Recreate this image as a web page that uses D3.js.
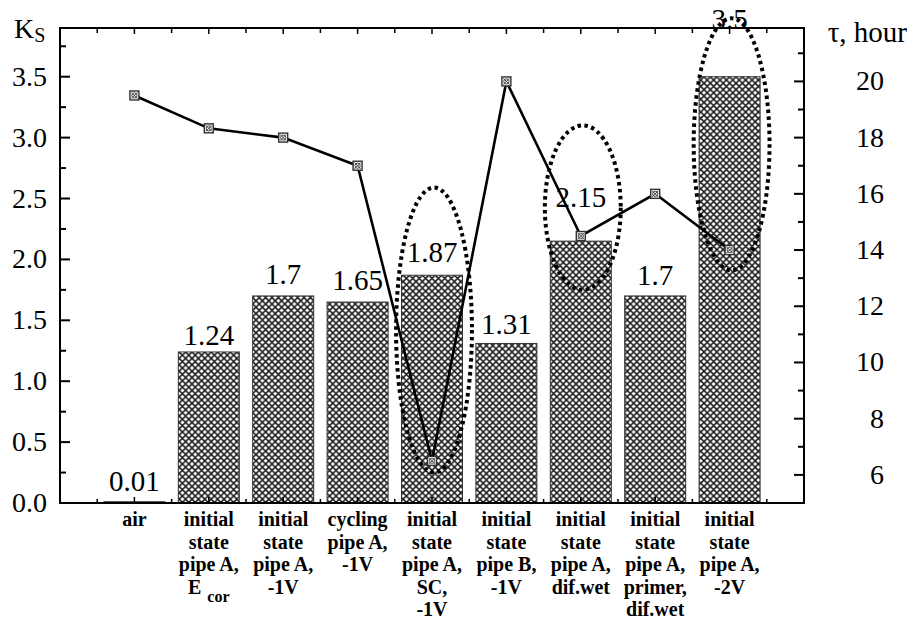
<!DOCTYPE html>
<html><head><meta charset="utf-8">
<script src="https://cdn.jsdelivr.net/npm/d3@7"></script>
<style>
html,body{margin:0;padding:0;background:#fff;}
svg{display:block;}
</style></head>
<body>
<svg id="chart" width="909" height="622" font-family="'Liberation Serif', 'DejaVu Serif', serif"></svg>
<script>
// ---- data ----
const categories = [
  ["air"],
  ["initial","state","pipe A,","E|cor"],
  ["initial","state","pipe A,","-1V"],
  ["cycling","pipe A,","-1V"],
  ["initial","state","pipe A,","SC,","-1V"],
  ["initial","state","pipe B,","-1V"],
  ["initial","state","pipe A,","dif.wet"],
  ["initial","state","pipe A,","primer,","dif.wet"],
  ["initial","state","pipe A,","-2V"]
];
const ksValues = [0.01, 1.24, 1.7, 1.65, 1.87, 1.31, 2.15, 1.7, 3.5];
const ksLabels = ["0.01","1.24","1.7","1.65","1.87","1.31","2.15","1.7","3.5"];
const tauValues = [19.5, 18.33, 18.0, 17.0, 6.5, 20.0, 14.5, 16.0, 14.0];
const leftTicks = [0, 0.5, 1.0, 1.5, 2.0, 2.5, 3.0, 3.5];
const rightTicks = [6, 8, 10, 12, 14, 16, 18, 20];
// highlighted groups: category index (1-based), Ks range covered by the dotted ellipse
const highlightCat = [5, 7, 9];
const highlightLow = [0.25, 1.75, 1.91];
const highlightHigh = [2.59, 3.10, 3.98];

// ---- layout ----
const svg = d3.select("#chart");
const FONT = "'Liberation Serif', 'DejaVu Serif', serif";
const L = 60, R = 804, T = 28, B = 503;
const x = d3.scaleLinear().domain([0, 10]).range([L, R]);
const yL = d3.scaleLinear().domain([0, 3.9]).range([B, T]);
const yR = d3.scaleLinear().domain([5, 21.9]).range([B, T]);
const barW = (x(1) - x(0)) * 0.82;

// hatch pattern
const defs = svg.append("defs");
const pat = defs.append("pattern").attr("id","hatch").attr("patternUnits","userSpaceOnUse")
  .attr("width",6.4).attr("height",6.4);
pat.append("rect").attr("width",6.4).attr("height",6.4).attr("fill","#fff");
pat.append("path").attr("d","M-1,1 L1,-1 M0,6.4 L6.4,0 M5.4,7.4 L7.4,5.4 M-1,5.4 L1,7.4 M0,0 L6.4,6.4 M5.4,-1 L7.4,1")
  .attr("stroke","#1a1a1a").attr("stroke-width",1.5);

// bars
svg.append("g").selectAll("rect").data(ksValues).join("rect")
  .attr("x",(d,i)=>x(i+1)-barW/2)
  .attr("y",d=>yL(d))
  .attr("width",barW)
  .attr("height",d=>Math.max(1,B-yL(d)))
  .attr("fill",(d,i)=> i===0 ? "#000" : "url(#hatch)")
  .attr("stroke","#333").attr("stroke-width",1);

// value labels
const labelGap = [11, 7, 12, 12, 13, 9, 34, 11, 48];
svg.append("g").selectAll("text").data(ksValues).join("text")
  .attr("x",(d,i)=>x(i+1))
  .attr("y",(d,i)=>yL(d)-labelGap[i])
  .attr("text-anchor","middle")
  .attr("font-family",FONT)
  .attr("font-size",29)
  .text((d,i)=>ksLabels[i]);

// dotted ellipses
svg.append("g").selectAll("ellipse").data(highlightCat).join("ellipse")
  .attr("cx",(c,i)=>x(c)+2)
  .attr("cy",(c,i)=>(yL(highlightLow[i])+yL(highlightHigh[i]))/2)
  .attr("rx",(x(1)-x(0))*0.51)
  .attr("ry",(c,i)=>(yL(highlightLow[i])-yL(highlightHigh[i]))/2)
  .attr("fill","none").attr("stroke","#000").attr("stroke-width",4)
  .attr("stroke-dasharray","3.5,3.5");

// line
const line = d3.line().x((d,i)=>x(i+1)).y(d=>yR(d));
svg.append("path").datum(tauValues).attr("d",line)
  .attr("fill","none").attr("stroke","#000").attr("stroke-width",2.6);
const mk = svg.append("g").selectAll("g").data(tauValues).join("g")
  .attr("transform",(d,i)=>`translate(${x(i+1)},${yR(d)})`);
mk.append("rect").attr("x",-4.5).attr("y",-4.5).attr("width",9).attr("height",9)
  .attr("fill","#eee").attr("stroke","#333").attr("stroke-width",1.4);
mk.append("circle").attr("r",2.6).attr("fill","none").attr("stroke","#555").attr("stroke-width",1);
mk.append("path").attr("d","M-3,-3L3,3M-3,3L3,-3").attr("stroke","#444").attr("stroke-width",1);

// frame
const ax = svg.append("g").attr("stroke","#000").attr("fill","none");
ax.append("rect").attr("x",L).attr("y",T).attr("width",R-L).attr("height",B-T).attr("stroke-width",2);

// left ticks (major 0.5, minor 0.25)
const leftMinor = d3.range(0.25, 3.9, 0.5);
ax.selectAll(".lt").data(leftTicks).join("line").attr("x1",L).attr("x2",L+10)
  .attr("y1",d=>yL(d)).attr("y2",d=>yL(d)).attr("stroke-width",2);
ax.selectAll(".lm").data(leftMinor).join("line").attr("x1",L).attr("x2",L+6)
  .attr("y1",d=>yL(d)).attr("y2",d=>yL(d)).attr("stroke-width",2);
// right ticks
const rightMinor = d3.range(7, 22, 2);
ax.selectAll(".rt").data(rightTicks).join("line").attr("x1",R).attr("x2",R-10)
  .attr("y1",d=>yR(d)).attr("y2",d=>yR(d)).attr("stroke-width",2);
ax.selectAll(".rm").data(rightMinor).join("line").attr("x1",R).attr("x2",R-6)
  .attr("y1",d=>yR(d)).attr("y2",d=>yR(d)).attr("stroke-width",2);
// top & bottom ticks
const xMajor = d3.range(1, 10), xMinor = d3.range(0.5, 10, 1);
ax.selectAll(".bt").data(xMajor).join("line").attr("x1",d=>x(d)).attr("x2",d=>x(d))
  .attr("y1",B).attr("y2",B-6).attr("stroke-width",1.5);
ax.selectAll(".bm").data(xMinor).join("line").attr("x1",d=>x(d)).attr("x2",d=>x(d))
  .attr("y1",B).attr("y2",B-4).attr("stroke-width",1.5);
ax.selectAll(".tt").data(xMajor).join("line").attr("x1",d=>x(d)).attr("x2",d=>x(d))
  .attr("y1",T).attr("y2",T+6).attr("stroke-width",1.5);
ax.selectAll(".tm").data(xMinor).join("line").attr("x1",d=>x(d)).attr("x2",d=>x(d))
  .attr("y1",T).attr("y2",T+5).attr("stroke-width",1.5);

// tick labels
svg.append("g").selectAll("text").data(leftTicks).join("text")
  .attr("x",L-13).attr("y",d=>yL(d)+9).attr("text-anchor","end")
  .attr("font-family",FONT).attr("font-size",28)
  .text(d=>d.toFixed(1));
svg.append("g").selectAll("text").data(rightTicks).join("text")
  .attr("x",884).attr("y",d=>yR(d)+9).attr("text-anchor","end")
  .attr("font-family",FONT).attr("font-size",28)
  .text(d=>d);

// axis titles
const kt = svg.append("text").attr("x",14).attr("y",38).attr("font-family",FONT).attr("font-size",28);
kt.append("tspan").text("K");
kt.append("tspan").attr("font-size",20).attr("dy",4).text("S");
svg.append("text").attr("x",907).attr("y",42).attr("text-anchor","end")
  .attr("font-family",FONT).attr("font-size",29).text("τ, hour");

// category labels
const cg = svg.append("g").attr("font-weight","bold").attr("font-size",20).attr("font-family",FONT);
categories.forEach((lines,i)=>{
  lines.forEach((ln,j)=>{
    const t = cg.append("text").attr("x",x(i+1)).attr("y",526+j*22.5).attr("text-anchor","middle");
    if (ln.includes("|")) {
      const [a,b] = ln.split("|");
      t.append("tspan").text(a);
      t.append("tspan").attr("font-size",16).attr("dy",8).attr("dx",6).text(b);
    } else t.text(ln);
  });
});
</script>
</body></html>
